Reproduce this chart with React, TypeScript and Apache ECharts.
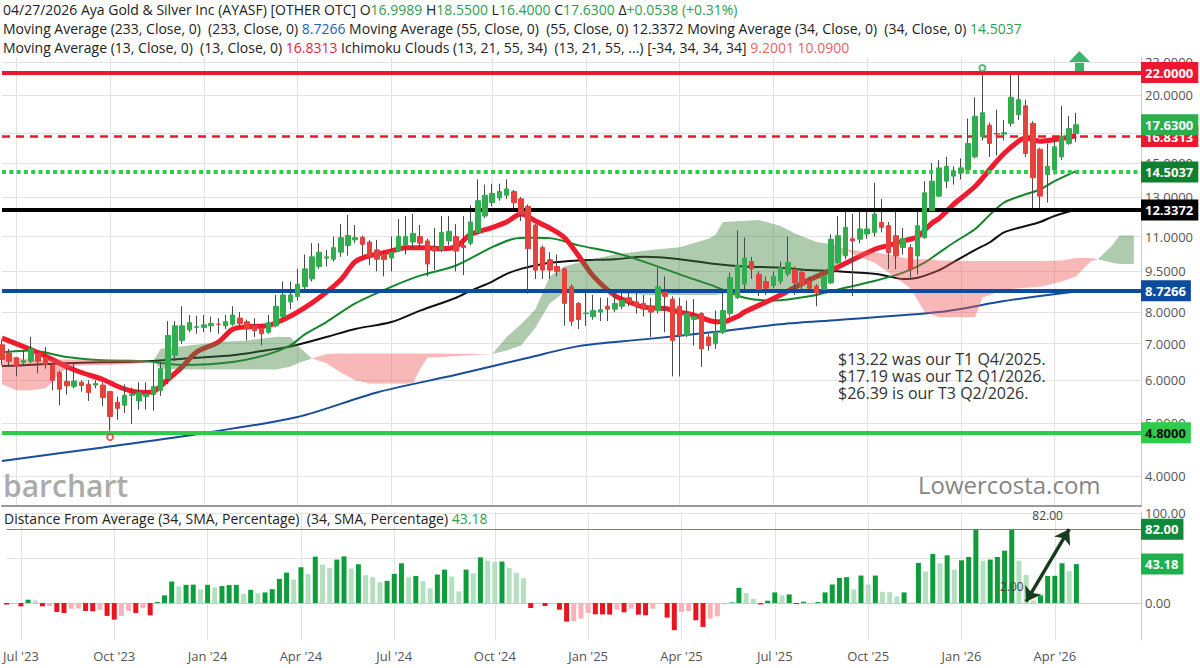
import React, { useEffect, useRef } from "react";
import * as echarts from "echarts";

const FONT = "'Open Sans', 'Noto Sans', sans-serif";

// ---- time axis: weekly bars, first category = week of 2023-06-19 (k = -2)
const FIRST_WEEK_UTC = Date.UTC(2023, 5, 19);
const K0 = -2; // k index of the first category
const WEEK_COUNT = 159; // k = -2 .. 156 (last weeks are empty future space)
const MONTHS = ["Jan", "Feb", "Mar", "Apr", "May", "Jun", "Jul", "Aug", "Sep", "Oct", "Nov", "Dec"];

// ---- weekly candles [open, high, low, close], k = -2 .. 147
const candles: number[][] = [
  [6.97, 7.1, 6.4, 6.55], [6.73, 6.85, 6.35, 6.5], [6.6, 6.62, 6.1, 6.37], [6.47, 6.8, 6.37, 6.52],
  [6.5, 7.2, 6.45, 6.85], [6.72, 6.8, 6.18, 6.5], [6.6, 6.9, 6.3, 6.42], [6.4, 6.45, 5.75, 6.0],
  [6.2, 6.25, 5.4, 5.78], [5.97, 6.3, 5.65, 5.86], [5.85, 6.45, 5.8, 5.98], [5.95, 6.0, 5.72, 5.87],
  [5.9, 6.0, 5.5, 5.7], [5.88, 6.0, 5.8, 5.92], [5.88, 5.95, 5.38, 5.58], [5.72, 5.72, 4.85, 5.15],
  [5.47, 5.6, 5.08, 5.33], [5.4, 5.9, 5.23, 5.63], [5.63, 5.82, 4.99, 5.66], [5.5, 5.95, 5.3, 5.7],
  [5.6, 5.95, 5.3, 5.66], [5.65, 6.45, 5.28, 5.84], [5.75, 6.45, 5.62, 6.3], [6.05, 7.7, 5.9, 7.25],
  [6.67, 7.7, 6.5, 7.55], [7.1, 8.2, 7.0, 7.55], [7.42, 7.9, 7.35, 7.65], [7.5, 7.88, 7.3, 7.52],
  [7.5, 7.9, 7.35, 7.58], [7.55, 7.85, 7.35, 7.63], [7.6, 7.8, 7.3, 7.6], [7.55, 7.9, 7.45, 7.68],
  [7.6, 8.2, 7.55, 7.9], [7.8, 8.0, 7.5, 7.62], [7.68, 7.75, 7.1, 7.45], [7.55, 7.8, 7.2, 7.4],
  [7.48, 7.6, 6.95, 7.3], [7.35, 7.9, 7.3, 7.65], [7.55, 8.6, 7.5, 8.2], [7.85, 9.1, 7.8, 8.6],
  [8.35, 9.1, 8.1, 8.6], [8.55, 9.6, 8.4, 9.0], [8.9, 10.2, 8.8, 9.6], [9.2, 10.7, 9.1, 10.1],
  [9.7, 10.7, 9.6, 10.3], [10.05, 10.4, 9.7, 10.1], [10.0, 11.0, 9.9, 10.5], [10.3, 11.6, 10.1, 10.95],
  [10.6, 12.05, 10.15, 11.05], [10.85, 11.55, 10.7, 10.95], [10.97, 11.05, 10.15, 10.65], [10.75, 10.85, 9.75, 10.1],
  [10.4, 10.85, 9.5, 10.0], [10.2, 10.3, 9.3, 9.98], [10.05, 11.0, 9.5, 10.3], [10.35, 11.85, 10.3, 11.0],
  [10.6, 12.0, 10.2, 11.0], [10.75, 12.1, 10.5, 11.15], [11.0, 11.55, 10.5, 10.7], [10.8, 10.9, 9.3, 9.8],
  [10.5, 11.4, 9.55, 10.35], [10.4, 12.0, 10.3, 11.2], [10.8, 12.0, 10.6, 11.25], [11.0, 11.6, 9.5, 10.35],
  [10.6, 12.0, 9.35, 10.5], [10.7, 12.55, 10.6, 11.7], [11.2, 14.0, 11.1, 12.8], [12.0, 13.7, 11.9, 13.1],
  [12.7, 13.75, 12.5, 13.2], [12.95, 13.75, 12.8, 13.3], [13.1, 14.0, 12.9, 13.45], [13.3, 13.4, 12.4, 12.7],
  [12.9, 13.0, 11.75, 12.1], [12.5, 12.6, 8.65, 10.45], [11.55, 11.6, 9.2, 9.55], [10.5, 10.6, 9.2, 9.55],
  [9.98, 10.3, 9.2, 9.55], [9.7, 10.2, 9.3, 9.5], [9.6, 9.65, 7.55, 8.3], [8.9, 9.0, 7.55, 7.7],
  [8.3, 8.35, 7.45, 7.75], [7.95, 8.7, 7.55, 7.97], [7.85, 8.6, 7.75, 8.05], [8.0, 8.5, 7.7, 8.08],
  [8.2, 8.5, 7.7, 8.1], [8.1, 8.75, 8.0, 8.3], [8.2, 8.75, 8.1, 8.4], [8.5, 8.75, 8.2, 8.35],
  [8.35, 8.75, 7.95, 8.2], [8.3, 8.6, 7.85, 8.1], [8.2, 8.5, 7.2, 8.0], [8.05, 9.65, 7.95, 8.9],
  [8.7, 9.3, 7.35, 8.55], [8.45, 8.55, 6.1, 7.1], [8.2, 8.5, 6.1, 7.25], [7.25, 8.4, 7.2, 7.95],
  [7.75, 8.45, 6.95, 7.85], [7.95, 8.0, 6.35, 6.85], [7.2, 7.3, 6.8, 6.95], [7.0, 8.05, 6.85, 7.35],
  [7.35, 8.75, 7.3, 8.05], [7.95, 9.45, 7.85, 9.25], [8.5, 11.3, 8.45, 9.75], [9.0, 10.95, 8.8, 10.05],
  [9.9, 10.1, 9.2, 9.6], [9.38, 9.5, 8.56, 8.8], [9.1, 9.3, 8.6, 8.85], [8.95, 9.5, 8.85, 9.3],
  [9.12, 9.9, 9.0, 9.65], [9.4, 11.0, 9.3, 9.86], [9.58, 9.7, 8.6, 9.05], [9.45, 9.55, 8.8, 8.95],
  [9.12, 9.3, 8.7, 8.85], [8.93, 9.0, 8.2, 8.68], [8.8, 9.4, 8.7, 9.32], [9.05, 11.1, 9.0, 10.88],
  [9.86, 12.0, 9.8, 11.04], [10.14, 12.3, 10.0, 11.44], [10.9, 12.1, 8.56, 10.8], [10.88, 12.3, 10.7, 11.36],
  [11.12, 12.2, 10.9, 11.36], [11.2, 13.8, 11.0, 12.1], [11.68, 12.9, 11.2, 11.44], [11.52, 11.7, 9.6, 10.28],
  [11.04, 12.3, 9.58, 10.14], [10.5, 11.4, 10.2, 10.9], [10.5, 10.65, 9.25, 9.58], [10.14, 12.4, 9.38, 11.52],
  [10.96, 13.9, 10.9, 13.23], [12.27, 15.0, 12.2, 13.9], [13.05, 15.2, 13.0, 14.7], [13.9, 15.4, 13.5, 14.8],
  [14.2, 14.8, 13.7, 14.5], [14.4, 15.3, 14.0, 14.7], [14.6, 18.1, 14.4, 16.3], [15.4, 19.8, 15.3, 18.28],
  [16.77, 21.75, 16.5, 18.55], [17.6, 17.8, 15.4, 16.3], [17.0, 18.8, 15.5, 16.95], [16.95, 18.0, 16.5, 17.05],
  [17.74, 21.75, 17.5, 19.8], [18.4, 21.75, 18.0, 19.6], [19.1, 19.6, 15.4, 15.62], [17.74, 17.9, 12.35, 14.1],
  [15.9, 16.0, 12.35, 13.05], [14.3, 16.3, 12.7, 14.8], [14.6, 16.5, 14.3, 16.07], [15.4, 19.1, 15.2, 16.77],
  [16.3, 18.3, 16.2, 17.35], [16.9989, 18.55, 16.4, 17.63],
];

// ---- Distance From Average (34, SMA, %), k = -2 .. 147
const distance34: number[] = [
  -1.5, -0.5, -3.7, 3.7, 2.9, -3.7, -3.3, -9.9, -11, -6.3, -6.0, -8.8, -9.2, -7.4, -14.3, -18.4,
  -14.3, -8.8, -11, -5.5, -13.6, 1.1, 8.5, 23.9, 18.4, 20.2, 20.4, 15.1, 20.2, 17.3, 18.8, 19.9,
  20.2, 10.3, 14.7, 11, 11.8, 15.4, 26.8, 33.8, 26.1, 39.7, 32.4, 51.5, 42.6, 39, 48.2, 51.8,
  38.2, 43, 30.9, 28.7, 23.2, 24.6, 32.4, 44.1, 28.7, 30.1, 24.3, 16.2, 31.6, 37.1, 29.4, 12.9,
  37.1, 33.1, 50.7, 47.1, 45.6, 46, 39, 33.5, 27.6, -5.5, -0.5, -3.3, -0.8, -7.4, -20.6, -19.9,
  -17.3, -11, -12.5, -12.6, -12.8, -7, -10.3, -6.3, -12.9, -13.6, -6.3, -1, -16.2, -30.1, -9.9, -8.8,
  -19.1, -26.5, -17.3, -14.7, -1.5, 0.7, 16.9, 11, 4.8, -1.5, 2.6, 11.8, 8.5, 9.6, -1.1, 1.5,
  0.3, 1.1, 11.8, 20.6, 27.9, 28.7, 15.1, 30.5, 20.6, 30.5, 12.5, 12.4, 7.4, 11.8, 0.3, 44.5,
  34.9, 54.4, 44.1, 52.9, 37.1, 47.4, 51.1, 82, 47, 48.2, 51.1, 58.1, 82, 47, 31.3, 2.9,
  8.5, 30.1, 30.2, 44.1, 35.3, 43.18,
];

// ---- moving averages: [k, value]
const ma13: number[][] = [
  [-2, 7.17], [2, 6.83], [5, 6.55], [7, 6.35], [9, 6.2], [12, 6.02], [14, 5.85], [16, 5.73], [18, 5.7],
  [19, 5.72], [21, 6.02], [23, 6.35], [25, 6.76], [28, 7.05], [30, 7.44], [32, 7.52], [35, 7.56],
  [37, 7.75], [39, 8.0], [42, 8.5], [45, 9.17], [47, 9.9], [49, 10.15], [52, 10.35], [54, 10.5],
  [57, 10.5], [59, 10.45], [61, 10.55], [63, 11.1], [66, 11.43], [68, 11.7], [70, 12.1], [72, 11.75],
  [74, 11.4], [76, 10.96], [78, 10.14], [80, 9.32], [83, 8.58], [85, 8.35], [87, 8.17], [90, 8.12],
  [92, 8.0], [94, 7.9], [97, 7.68], [98, 7.68], [100, 7.85], [101, 8.0], [104, 8.35], [106, 8.6],
  [110, 9.17], [114, 9.68], [119, 10.42], [121, 10.6], [123, 10.8], [125, 11.0], [127, 11.65],
  [128, 11.88], [130, 12.6], [133, 13.6], [135, 14.6], [137, 15.62], [139, 16.45], [140, 16.67],
  [142, 16.45], [144, 16.56], [147, 16.8313],
];
const ma34: number[][] = [
  [-2, 6.75], [2, 6.8], [7, 6.62], [12, 6.53], [18, 6.5], [23, 6.4], [30, 6.48], [35, 6.7], [38, 6.95],
  [40, 7.28], [43, 7.67], [47, 8.3], [52, 8.9], [56, 9.33], [61, 9.74], [66, 10.52], [69, 10.9],
  [71, 10.95], [74, 10.93], [78, 10.6], [83, 10.28], [87, 9.9], [92, 9.38], [97, 8.9], [101, 8.5],
  [105, 8.4], [110, 8.55], [114, 8.8], [119, 9.12], [123, 9.45], [126, 9.86], [128, 10.28],
  [130, 10.72], [133, 11.36], [135, 12.05], [137, 12.7], [140, 13.15], [142, 13.42], [144, 13.9],
  [147, 14.5037],
];
const ma55: number[][] = [
  [-2, 6.37], [7, 6.45], [18, 6.5], [25, 6.6], [30, 6.67], [35, 6.82], [38, 6.92], [43, 7.2],
  [47, 7.45], [52, 7.67], [56, 8.05], [61, 8.5], [63, 8.75], [66, 9.1], [68, 9.4], [70, 9.6],
  [74, 9.85], [78, 9.95], [83, 10.0], [87, 10.1], [92, 10.0], [97, 9.8], [101, 9.7], [106, 9.65],
  [110, 9.55], [114, 9.5], [119, 9.4], [121, 9.3], [123, 9.2], [125, 9.25], [128, 9.55], [130, 9.88],
  [133, 10.4], [135, 10.73], [137, 11.2], [140, 11.5], [142, 11.7], [144, 12.0], [147, 12.3372],
];
const ma233: number[][] = [
  [-2, 4.27], [12, 4.52], [25, 4.78], [39, 5.14], [50, 5.7], [61, 6.14], [71, 6.6], [78, 6.93],
  [87, 7.13], [97, 7.36], [106, 7.6], [114, 7.74], [128, 8.0], [137, 8.38], [142, 8.56], [147, 8.7266],
];

// ---- Ichimoku cloud segments: [k, upper, lower]
const cloudSegments: { bullish: boolean; points: number[][] }[] = [
  { bullish: false, points: [[-2, 6.7, 5.9], [0, 6.6, 5.75], [2, 6.55, 5.75], [4, 6.55, 5.8], [5, 6.55, 5.95], [6, 6.55, 6.2], [8, 6.55, 6.38], [12, 6.55, 6.4], [16, 6.55, 6.42], [19, 6.5, 6.5]] },
  { bullish: true, points: [[19, 6.5, 6.5], [20, 6.85, 6.3], [24, 6.95, 6.28], [28, 7.05, 6.28], [32, 7.1, 6.28], [36, 7.2, 6.28], [38, 7.2, 6.35], [39, 6.95, 6.45], [41, 6.58, 6.58]] },
  { bullish: false, points: [[41, 6.58, 6.58], [43, 6.7, 6.45], [45, 6.72, 6.2], [47, 6.72, 6.0], [49, 6.72, 5.92], [52, 6.72, 5.92], [55, 6.72, 5.92], [56, 6.72, 6.3], [57, 6.72, 6.6], [66, 6.7, 6.7]] },
  { bullish: true, points: [[66, 6.7, 6.7], [68, 7.2, 6.8], [70, 7.6, 6.95], [72, 8.1, 7.5], [74, 9.3, 8.3], [76, 9.7, 8.7], [79, 9.95, 8.7], [83, 10.2, 8.65], [88, 10.4, 8.6], [92, 10.52, 8.6], [96, 10.9, 8.6], [97, 11.1, 8.6], [98, 11.7, 8.65], [103, 11.8, 8.75], [106, 11.5, 8.8], [108, 11.15, 8.8], [111, 10.75, 8.8], [113, 10.66, 9.3], [115, 10.45, 10.45]] },
  { bullish: false, points: [[115, 10.45, 10.45], [116, 10.4, 10.2], [119, 10.3, 9.86], [121, 10.2, 9.45], [124, 10.0, 8.85], [126, 10.0, 8.0], [128, 9.95, 7.83], [133, 9.92, 7.83], [134, 9.92, 8.5], [137, 9.92, 8.8], [142, 9.92, 8.9], [145, 9.95, 9.1], [147, 10.05, 9.3], [149, 10.05, 9.9], [150, 10.0, 10.0]] },
  { bullish: true, points: [[150, 10.0, 10.0], [152, 10.6, 9.85], [153, 11.05, 9.8], [155, 11.05, 9.8]] },
];

// ---- price levels and axis ticks
const priceTicks = [4, 5, 6, 7, 8, 9.5, 11, 13, 15, 17, 20, 23];
const priceRange = [3.53, 23.47];
const distanceTicks = [0, 50, 100];
const distanceRange = [-41, 101];
const resistanceLevel = 22;
const supportLevel = 4.8;
const lastClose = 17.63;
const lastMa13 = 16.8313;
const lastMa34 = 14.5037;
const lastMa55 = 12.3372;
const lastMa233 = 8.7266;
const lastDistance = 43.18;
const peakDistance = 82;
const measureStart = [139.7, 1.5];
const measureEnd = [146.3, 82];
const measureStartText = 2;
const measureLabelEnd = [143.2, 97];
const measureLabelStart = [137.6, 18];
const highMarker = [134, 22.4];
const lowMarker = [13, 4.72];

const L = (v: number) => Math.log(v);
const idx = (k: number) => k - K0;

const categories = Array.from({ length: WEEK_COUNT }, (_, i) => {
  const d = new Date(FIRST_WEEK_UTC + i * 7 * 86400000);
  const mm = String(d.getUTCMonth() + 1).padStart(2, "0");
  const dd = String(d.getUTCDate()).padStart(2, "0");
  return `${d.getUTCFullYear()}-${mm}-${dd}`;
});
const isQuarterStart = (i: number) => {
  const s = categories[i];
  if (!s) return false;
  const m = +s.slice(5, 7);
  const d = +s.slice(8, 10);
  return (m === 1 || m === 4 || m === 7 || m === 10) && d <= 7;
};
const quarterLabel = (v: string) => `${MONTHS[+v.slice(5, 7) - 1]} '${v.slice(2, 4)}`;

function buildOption(): any {
  const GRID = "#e2e2e2";
  const HIDDEN = "rgba(0,0,0,0)";
  const badge = (text: string, bg: string, color = "#fff") => ({
    show: true,
    position: "end",
    distance: 0,
    formatter: text,
    backgroundColor: bg,
    color,
    fontWeight: "bold",
    fontSize: 13,
    lineHeight: 15,
    fontFamily: FONT,
    padding: [3, 5, 3, 4],
    align: "left",
  });
  const maLine = (pts: number[][], color: string, width: number, z: number) => ({
    type: "line",
    xAxisIndex: 0,
    yAxisIndex: 0,
    data: pts.map(([k, v]) => [idx(k), L(v)]),
    smooth: 0.3,
    showSymbol: false,
    symbol: "none",
    lineStyle: { color, width },
    z,
    silent: true,
  });

  const distColors = distance34.map((v, i) => {
    const prev = i > 0 ? distance34[i - 1] : v;
    if (v >= 0) return v >= prev ? "#0f9d3b" : "#b4e0c0";
    return v <= prev ? "#e8141f" : "#f7b3b7";
  });

  const headerRich = {
    b: { fill: "#222", fontSize: 14, fontFamily: FONT },
    g: { fill: "#2f9e4f", fontSize: 14, fontFamily: FONT },
    u: { fill: "#1f5fb0", fontSize: 14, fontFamily: FONT },
    r: { fill: "#e3263f", fontSize: 14, fontFamily: FONT },
    s: { fill: "#e86363", fontSize: 14, fontFamily: FONT },
  };

  return {
    animation: false,
    backgroundColor: "#ffffff",
    textStyle: { fontFamily: FONT },
    grid: [
      { left: 2, right: 59, top: 57, height: 449 },
      { left: 2, right: 59, top: 512, height: 128 },
    ],
    xAxis: [
      {
        type: "category",
        gridIndex: 0,
        data: categories,
        boundaryGap: false,
        axisLabel: { show: false },
        axisTick: { show: false },
        axisLine: { show: true, lineStyle: { color: "#9a9a9a", width: 2 } },
        splitLine: { show: true, interval: (i: number) => isQuarterStart(i), lineStyle: { color: GRID, width: 1 } },
      },
      {
        type: "category",
        gridIndex: 1,
        data: categories,
        boundaryGap: false,
        axisTick: { show: false },
        axisLine: { show: true, lineStyle: { color: "#cccccc", width: 1 } },
        axisLabel: {
          interval: (i: number) => isQuarterStart(i),
          formatter: (v: string) => quarterLabel(v),
          color: "#555",
          fontSize: 13,
          margin: 9,
          fontFamily: FONT,
        },
        splitLine: { show: true, interval: (i: number) => isQuarterStart(i), lineStyle: { color: GRID, width: 1 } },
      },
    ],
    yAxis: [
      {
        type: "value",
        gridIndex: 0,
        position: "right",
        min: L(priceRange[0]),
        max: L(priceRange[1]),
        axisLine: { show: true, lineStyle: { color: "#cccccc" } },
        axisTick: { show: false, customValues: priceTicks.map(L) },
        axisLabel: {
          customValues: priceTicks.map(L),
          formatter: (v: number) => Math.exp(v).toFixed(4),
          color: "#555",
          fontSize: 13,
          margin: 4,
          fontFamily: FONT,
        },
        splitLine: { show: true, lineStyle: { color: GRID, width: 1 } },
      },
      {
        type: "value",
        gridIndex: 1,
        position: "right",
        min: distanceRange[0],
        max: distanceRange[1],
        axisLine: { show: true, lineStyle: { color: "#cccccc" } },
        axisTick: { show: false, customValues: distanceTicks },
        axisLabel: {
          customValues: distanceTicks,
          formatter: (v: number) => v.toFixed(2),
          color: "#555",
          fontSize: 13,
          margin: 4,
          fontFamily: FONT,
        },
        splitLine: { show: true, lineStyle: { color: GRID, width: 1 } },
      },
    ],
    series: [
      maLine(ma233, "#1a4c9c", 2, 2),
      maLine(ma55, "#111111", 2, 2),
      maLine(ma34, "#14862c", 2, 2),
      maLine(ma13, "#ee1c2e", 5, 2),
      {
        type: "custom",
        name: "Ichimoku",
        xAxisIndex: 0,
        yAxisIndex: 0,
        z: 3,
        silent: true,
        clip: true,
        data: cloudSegments.map((s) => [idx(s.points[0][0]), L(s.points[0][1])]),
        encode: { x: 0, y: 1 },
        renderItem: (params: any, api: any) => {
          const seg = cloudSegments[params.dataIndex];
          const top = seg.points.map((p) => api.coord([idx(p[0]), L(p[1])]));
          const bottom = seg.points.map((p) => api.coord([idx(p[0]), L(p[2])])).reverse();
          return {
            type: "polygon",
            shape: { points: top.concat(bottom) },
            style: { fill: seg.bullish ? "rgba(62,132,62,0.42)" : "rgba(240,86,86,0.42)" },
          };
        },
      },
      {
        type: "candlestick",
        name: "wicks",
        xAxisIndex: 0,
        yAxisIndex: 0,
        z: 4,
        barWidth: 1,
        silent: true,
        data: candles.map(([o, h, l, c]) => [L(o), L(c), L(l), L(h)]),
        itemStyle: { color: "#4a4a4a", color0: "#4a4a4a", borderColor: "#4a4a4a", borderColor0: "#4a4a4a", borderWidth: 1 },
      },
      {
        type: "candlestick",
        name: "AYASF",
        xAxisIndex: 0,
        yAxisIndex: 0,
        z: 5,
        barWidth: 5,
        silent: true,
        data: candles.map(([o, , , c]) => [L(o), L(c), L(Math.min(o, c)), L(Math.max(o, c))]),
        itemStyle: { color: "#31ad4f", color0: "#e6413c", borderColor: "#31ad4f", borderColor0: "#e6413c", borderWidth: 1 },
        markLine: {
          silent: true,
          symbol: ["none", "none"],
          data: [
            { yAxis: L(resistanceLevel), lineStyle: { color: "#ec1730", width: 4, type: "solid" }, label: badge(resistanceLevel.toFixed(4), "#ec1730") },
            { yAxis: L(lastMa13), lineStyle: { color: "#e8172c", width: 2.5, type: [8, 6] }, label: badge(lastMa13.toFixed(4), "#ec1730") },
            { yAxis: L(lastMa34), lineStyle: { color: "#2ecc4a", width: 4, type: [4, 3.3] }, label: badge(lastMa34.toFixed(4), "#0f7f30") },
            { yAxis: L(lastMa55), lineStyle: { color: "#000000", width: 4, type: "solid" }, label: badge(lastMa55.toFixed(4), "#000000") },
            { yAxis: L(lastMa233), lineStyle: { color: "#0b4c9e", width: 4, type: "solid" }, label: badge(lastMa233.toFixed(4), "#0b4c9e") },
            { yAxis: L(supportLevel), lineStyle: { color: "#2ecc4a", width: 4, type: "solid" }, label: badge(supportLevel.toFixed(4), "#2ecc4a", "#111") },
            { yAxis: L(lastClose), lineStyle: { color: HIDDEN, width: 1, type: "solid" }, label: badge(lastClose.toFixed(4), "#2aaf4c") },
          ],
        },
      },
      {
        type: "scatter",
        xAxisIndex: 0,
        yAxisIndex: 0,
        z: 6,
        silent: true,
        symbol: "emptyCircle",
        symbolSize: 6,
        data: [
          { value: [idx(highMarker[0]), L(highMarker[1])], itemStyle: { color: "#3aa35a", borderColor: "#3aa35a" } },
          { value: [idx(lowMarker[0]), L(lowMarker[1])], itemStyle: { color: "#e53935", borderColor: "#e53935" } },
        ],
      },
      {
        type: "bar",
        name: "Distance From Average",
        xAxisIndex: 1,
        yAxisIndex: 1,
        barWidth: 5,
        silent: true,
        z: 3,
        data: distance34.map((v, i) => ({ value: v, itemStyle: { color: distColors[i] } })),
        markLine: {
          silent: true,
          symbol: ["none", "none"],
          data: [
            { yAxis: peakDistance, lineStyle: { color: "#4f9e68", width: 1.2, type: "solid" }, label: badge(peakDistance.toFixed(2), "#0d8a3c") },
            { yAxis: lastDistance, lineStyle: { color: HIDDEN, width: 1, type: "solid" }, label: badge(lastDistance.toFixed(2), "#1fb04e") },
            [
              { coord: [idx(measureStart[0]), measureStart[1]], symbol: "arrow", symbolSize: 14, lineStyle: { color: "#183d1c", width: 3.5, type: "solid" }, label: { show: false } },
              { coord: [idx(measureEnd[0]), measureEnd[1]], symbol: "arrow", symbolSize: 14 },
            ],
          ],
        },
        markPoint: {
          silent: true,
          symbol: "circle",
          symbolSize: 0,
          data: [
            { coord: [idx(measureLabelEnd[0]), measureLabelEnd[1]], label: { show: true, formatter: measureEnd[1].toFixed(2), color: "#444", fontSize: 12, position: "inside" } },
            { coord: [idx(measureLabelStart[0]), measureLabelStart[1]], label: { show: true, formatter: measureStartText.toFixed(2), color: "#444", fontSize: 12, position: "inside" } },
          ],
        },
      },
    ],
    graphic: [
      {
        type: "text",
        x: 3,
        y: 2,
        z: 100,
        silent: true,
        style: {
          text:
            "{b|04/27/2026 Aya Gold & Silver Inc (AYASF) [OTHER OTC] O}{g|16.9989}{b| H}{g|18.5500}{b| L}{g|16.4000}{b| C}{g|17.6300}{b| Δ}{g|+0.0538 (+0.31%)}",
          rich: headerRich,
        },
      },
      {
        type: "text",
        x: 3,
        y: 21,
        z: 100,
        silent: true,
        style: {
          text:
            "{b|Moving Average (233, Close, 0)  (233, Close, 0) }{u|8.7266}{b| Moving Average (55, Close, 0)  (55, Close, 0) 12.3372 Moving Average (34, Close, 0)  (34, Close, 0) }{g|14.5037}",
          rich: headerRich,
        },
      },
      {
        type: "text",
        x: 3,
        y: 40,
        z: 100,
        silent: true,
        style: {
          text:
            "{b|Moving Average (13, Close, 0)  (13, Close, 0) }{r|16.8313}{b| Ichimoku Clouds (13, 21, 55, 34)  (13, 21, 55, ...) [-34, 34, 34, 34] }{s|9.2001 10.0900}",
          rich: headerRich,
        },
      },
      {
        type: "group",
        silent: true,
        z: 100,
        children: [
          { type: "polygon", shape: { points: [[1068, 63], [1079.5, 51], [1091, 63]] }, style: { fill: "#3cb371" } },
          { type: "rect", shape: { x: 1075, y: 62, width: 9, height: 9 }, style: { fill: "#3cb371" } },
        ],
      },
      {
        type: "text",
        x: 3,
        y: 470,
        z: 100,
        silent: true,
        style: { text: "barchart", fill: "#ababab", fontSize: 30, fontWeight: 600, fontFamily: FONT },
      },
      {
        type: "text",
        x: 918,
        y: 472,
        z: 100,
        silent: true,
        style: { text: "Lowercosta.com", fill: "#858585", fontSize: 24, fontFamily: FONT },
      },
      {
        type: "text",
        x: 838,
        y: 350,
        z: 100,
        silent: true,
        style: {
          text: "$13.22 was our T1 Q4/2025.\n$17.19 was our T2 Q1/2026.\n$26.39 is our T3 Q2/2026.",
          fill: "#333",
          fontSize: 16,
          lineHeight: 17,
          fontFamily: FONT,
        },
      },
      {
        type: "text",
        x: 4,
        y: 511,
        z: 100,
        silent: true,
        style: {
          text: "{b|Distance From Average (34, SMA, Percentage)  (34, SMA, Percentage) }{g|43.18}",
          rich: headerRich,
        },
      },
    ],
  };
}

export default function App() {
  const ref = useRef<HTMLDivElement>(null);
  useEffect(() => {
    if (!ref.current) return;
    const chart = echarts.init(ref.current, null, { renderer: "svg" });
    chart.setOption(buildOption());
    return () => chart.dispose();
  }, []);
  return (
    <div
      ref={ref}
      style={{ position: "fixed", left: 0, top: 0, width: 1200, height: 668, background: "#fff" }}
    />
  );
}
